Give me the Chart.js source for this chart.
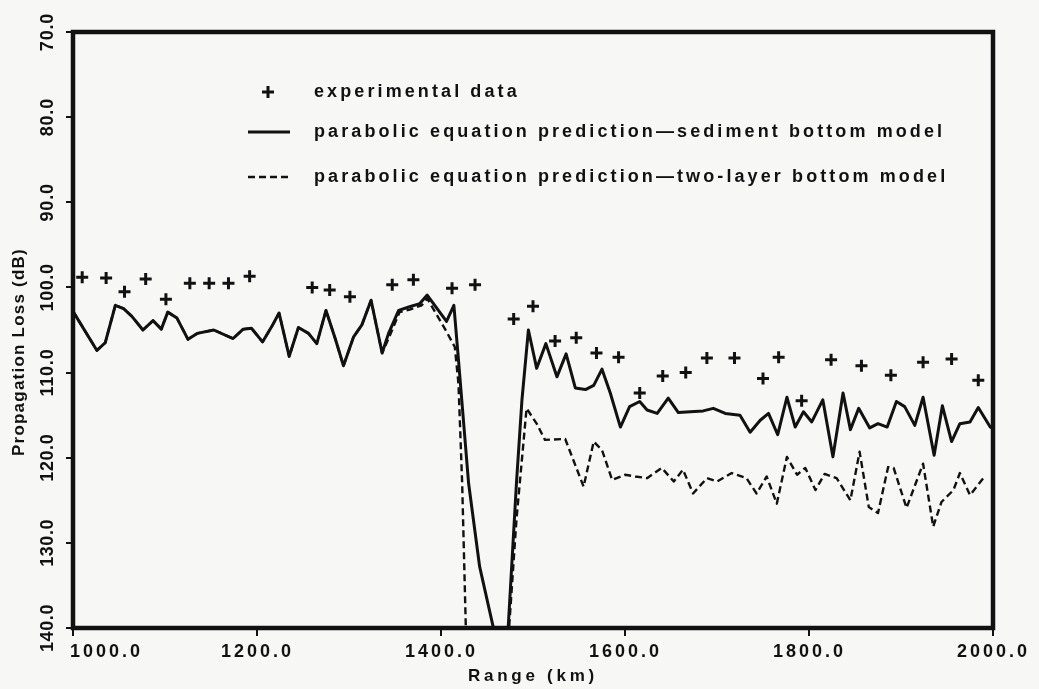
<!DOCTYPE html>
<html>
<head>
<meta charset="utf-8">
<script src="https://cdn.jsdelivr.net/npm/chart.js@4/dist/chart.umd.min.js"></script>
<style>
  html, body { margin: 0; padding: 0; background: #f7f7f5; }
  #wrap { width: 1039px; height: 689px; }
</style>
</head>
<body>
<div id="wrap"><canvas id="lossChart" width="1039" height="689"></canvas></div>
<script>
// --- data (range in km, loss in dB) ---
const xTicks = [1000, 1200, 1400, 1600, 1800, 2000];
const yTicks = [70, 80, 90, 100, 110, 120, 130, 140];

const expRange = [1010, 1036, 1056, 1079, 1101, 1127, 1148, 1169, 1192, 1260, 1279, 1301, 1347, 1370, 1412, 1437,
  1479, 1500, 1524, 1547, 1569, 1593, 1616, 1641, 1666, 1689, 1719, 1750, 1767, 1792, 1824, 1857, 1889, 1924, 1955, 1984];
const expLoss = [98.8, 98.9, 100.5, 99.0, 101.4, 99.5, 99.5, 99.5, 98.7, 100.0, 100.3, 101.1, 99.7, 99.1, 100.1, 99.7,
  103.7, 102.2, 106.3, 105.9, 107.7, 108.2, 112.4, 110.4, 110.0, 108.3, 108.3, 110.7, 108.2, 113.3, 108.5, 109.2, 110.3, 108.8, 108.4, 110.9];

// sediment bottom model (solid)
const sedRange = [1000, 1026, 1035, 1046, 1055, 1064, 1076, 1087, 1096, 1103, 1113, 1125, 1135, 1153, 1174, 1185, 1194, 1206, 1216, 1224,
  1235, 1245, 1256, 1265, 1275, 1285, 1294, 1305, 1314, 1324, 1336, 1343, 1354, 1365, 1377, 1385, 1406, 1414, 1419, 1430,
  1442, 1457, 1473, 1482, 1488, 1495, 1504, 1514, 1526, 1536, 1546, 1557, 1566, 1575, 1584, 1595, 1605, 1616, 1624, 1635,
  1647, 1658, 1671, 1685, 1696, 1709, 1725, 1736, 1747, 1756, 1766, 1776, 1785, 1794, 1803, 1815, 1826, 1837, 1845, 1854,
  1866, 1875, 1885, 1895, 1904, 1915, 1924, 1936, 1945, 1955, 1964, 1975, 1984, 1997, 2000];
const sedLoss = [102.8, 107.4, 106.5, 102.1, 102.5, 103.4, 105.0, 103.9, 104.9, 102.9, 103.6, 106.1, 105.4, 105.0, 106.0, 104.9, 104.8, 106.4, 104.6, 103.0,
  108.1, 104.7, 105.4, 106.6, 102.7, 106.0, 109.2, 105.8, 104.4, 101.5, 107.7, 105.4, 102.7, 102.3, 101.9, 100.9, 104.0, 102.1, 108.5, 123.0,
  132.8, 140, 140, 123.0, 113.2, 105.0, 109.5, 106.6, 110.5, 107.8, 111.8, 112.0, 111.5, 109.6, 112.4, 116.4, 114.0, 113.4, 114.4, 114.8,
  113.0, 114.7, 114.6, 114.5, 114.2, 114.8, 115.0, 117.0, 115.6, 114.8, 117.3, 112.9, 116.4, 114.6, 115.8, 113.2, 119.9, 112.4, 116.7, 114.2,
  116.5, 116.0, 116.4, 113.4, 114.0, 116.2, 112.9, 119.7, 113.9, 118.1, 116.0, 115.8, 114.1, 116.4, 116.6];

// two-layer bottom model (dashed): same as the solid curve up to 1336 km, then this tail
const sharedPoints = 31;
const twoRangeTail = [1343, 1355, 1366, 1379, 1385, 1406, 1415, 1419, 1423, 1427, 1474, 1482, 1493, 1504, 1513, 1535, 1555, 1566, 1575, 1586,
  1600, 1611, 1624, 1640, 1653, 1663, 1674, 1689, 1700, 1716, 1732, 1743, 1754, 1765, 1776, 1787, 1796, 1807, 1817, 1830,
  1845, 1855, 1865, 1875, 1886, 1892, 1906, 1924, 1935, 1944, 1957, 1964, 1975, 1991];
const twoLossTail = [106.0, 102.9, 102.6, 102.1, 101.3, 105.2, 107.0, 111.3, 123.0, 140, 140, 127.3, 114.2, 116.0, 117.9, 117.8, 123.4, 118.1, 119.1, 122.6,
  122.0, 122.2, 122.4, 121.2, 122.8, 121.4, 124.2, 122.4, 122.8, 121.8, 122.4, 124.2, 122.2, 125.4, 119.9, 122.0, 121.2, 123.8, 121.9, 122.4,
  125.0, 119.3, 125.8, 126.5, 121.1, 121.2, 125.9, 120.7, 128.1, 125.2, 123.8, 121.8, 124.4, 122.2];

const legendLabels = [
  'experimental data',
  'parabolic equation prediction\u2014sediment bottom model',
  'parabolic equation prediction\u2014two-layer bottom model'
];
const xTitle = 'Range (km)';
const yTitle = 'Propagation Loss (dB)';

function pairs(xs, ys) {
  return xs.map((v, i) => ({ x: v, y: ys[i] }));
}

const twoRange = sedRange.slice(0, sharedPoints).concat(twoRangeTail);
const twoLoss = sedLoss.slice(0, sharedPoints).concat(twoLossTail);

const INK = '#111111';
const FONT = '"Liberation Sans", Arial, sans-serif';

// set letter spacing so that text fills the given width
function spread(ctx, text, width) {
  ctx.letterSpacing = '0px';
  const w = ctx.measureText(text).width;
  ctx.letterSpacing = ((width - w) / text.length).toFixed(2) + 'px';
}

const paperPlugin = {
  id: 'paper',
  beforeDraw(chart) {
    const ctx = chart.ctx;
    ctx.save();
    ctx.fillStyle = '#f7f7f5';
    ctx.fillRect(0, 0, chart.width, chart.height);
    ctx.restore();
  },
  afterDraw(chart) {
    const ctx = chart.ctx;
    const area = chart.chartArea;
    const xs = chart.scales.x, ys = chart.scales.y;
    ctx.save();
    ctx.strokeStyle = INK;
    ctx.fillStyle = INK;

    // frame
    ctx.lineWidth = 4.5;
    ctx.strokeRect(area.left, area.top, area.right - area.left, area.bottom - area.top);

    // x tick labels
    ctx.font = 'bold 18px ' + FONT;
    ctx.textBaseline = 'middle';
    ctx.textAlign = 'left';
    xTicks.forEach((v, i) => {
      const t = v.toFixed(1);
      spread(ctx, t, 73);
      let cx = xs.getPixelForValue(v);
      if (i === 0) cx += 33;
      ctx.fillText(t, cx - 36, 652);
    });

    // y tick labels, rotated
    ctx.font = 'bold 18px ' + FONT;
    yTicks.forEach(v => {
      const t = v.toFixed(1);
      const len = t.length * 9.6;
      spread(ctx, t, len);
      ctx.save();
      ctx.translate(48, ys.getPixelForValue(v));
      ctx.rotate(-Math.PI / 2);
      ctx.fillText(t, -len / 2, 0);
      ctx.restore();
    });

    // axis titles
    ctx.font = 'bold 17px ' + FONT;
    spread(ctx, xTitle, 130);
    ctx.fillText(xTitle, 533 - 65, 676);
    ctx.save();
    ctx.translate(19, 352);
    ctx.rotate(-Math.PI / 2);
    spread(ctx, yTitle, 208);
    ctx.fillText(yTitle, -104, 0);
    ctx.restore();

    // legend
    const lx = 314;
    const rows = [92, 132, 177];
    ctx.lineWidth = 3;
    ctx.beginPath();
    ctx.moveTo(262, rows[0]); ctx.lineTo(274, rows[0]);
    ctx.moveTo(268, rows[0] - 6); ctx.lineTo(268, rows[0] + 6);
    ctx.stroke();
    ctx.lineWidth = 2.8;
    ctx.beginPath();
    ctx.moveTo(248, rows[1]); ctx.lineTo(290, rows[1]);
    ctx.stroke();
    ctx.setLineDash([7, 4]);
    ctx.lineWidth = 2.4;
    ctx.beginPath();
    ctx.moveTo(248, rows[2]); ctx.lineTo(292, rows[2]);
    ctx.stroke();
    ctx.setLineDash([]);

    ctx.font = 'bold 18px ' + FONT;
    spread(ctx, legendLabels[1], 631);
    const ls = ctx.letterSpacing;
    legendLabels.forEach((t, i) => {
      ctx.letterSpacing = ls;
      ctx.fillText(t, lx, rows[i]);
    });
    ctx.restore();
  }
};

new Chart(document.getElementById('lossChart'), {
  type: 'line',
  data: {
    datasets: [
      {
        label: legendLabels[0],
        data: pairs(expRange, expLoss),
        showLine: false,
        pointStyle: 'cross',
        pointRadius: 6,
        pointBorderWidth: 3,
        borderColor: INK,
        backgroundColor: INK
      },
      {
        label: legendLabels[1],
        data: pairs(sedRange, sedLoss),
        borderColor: INK,
        borderWidth: 3,
        borderJoinStyle: 'round',
        pointRadius: 0,
        tension: 0
      },
      {
        label: legendLabels[2],
        data: pairs(twoRange, twoLoss),
        borderColor: INK,
        borderWidth: 2.4,
        borderDash: [7, 4],
        borderJoinStyle: 'round',
        pointRadius: 0,
        tension: 0
      }
    ]
  },
  options: {
    responsive: false,
    devicePixelRatio: 1,
    animation: false,
    layout: { padding: { top: 32, right: 46, left: 0, bottom: 0 } },
    plugins: {
      legend: { display: false },
      tooltip: { enabled: false }
    },
    scales: {
      x: {
        type: 'linear',
        min: 1000,
        max: 2000,
        afterBuildTicks: s => { s.ticks = xTicks.map(v => ({ value: v })); },
        afterFit: s => { s.height = 61; },
        ticks: { display: false },
        grid: { drawOnChartArea: false, drawTicks: true, tickLength: 8, color: INK, lineWidth: 2 },
        border: { display: false }
      },
      y: {
        type: 'linear',
        reverse: true,
        min: 70,
        max: 140,
        afterBuildTicks: s => { s.ticks = yTicks.map(v => ({ value: v })); },
        afterFit: s => { s.width = 73; },
        ticks: { display: false },
        grid: { drawOnChartArea: false, drawTicks: true, tickLength: 7, color: INK, lineWidth: 2 },
        border: { display: false }
      }
    }
  },
  plugins: [paperPlugin]
});
</script>
</body>
</html>
